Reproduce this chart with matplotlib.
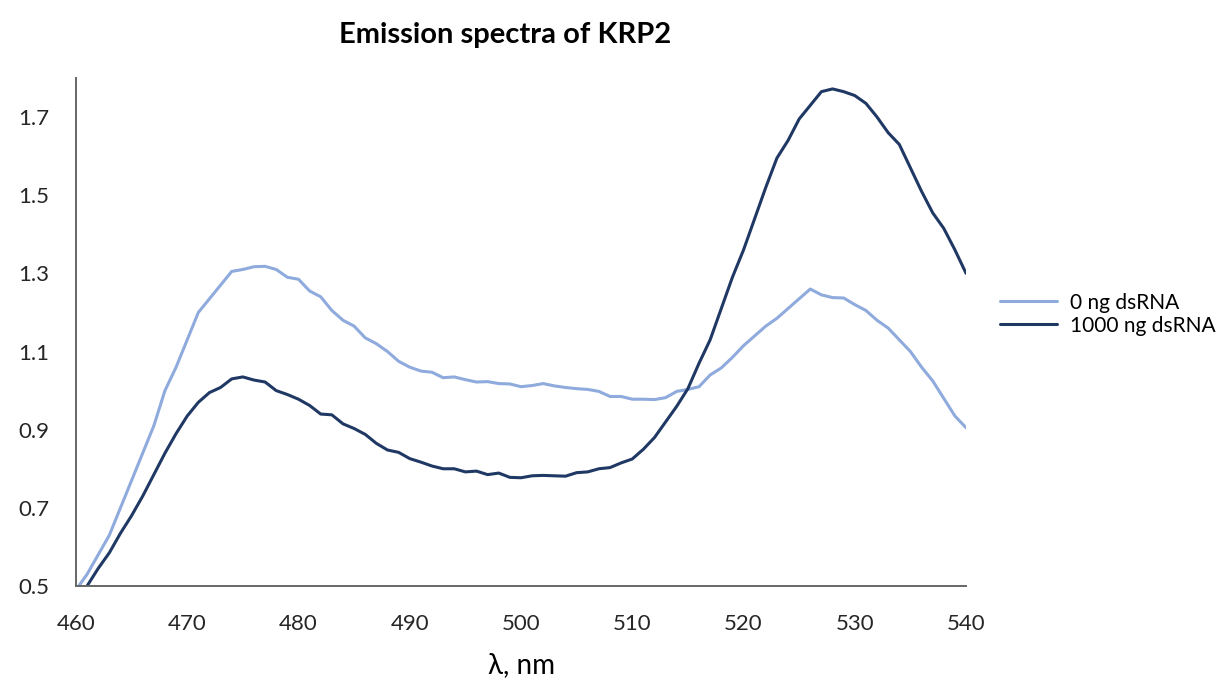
import numpy as np
from matplotlib import pyplot as plt

# longitud de onda (nm)
wl = np.arange(460, 541)

ng0 = [0.49, 0.53, 0.58, 0.63, 0.70, 0.77, 0.84, 0.91, 1.00, 1.06,
       1.13, 1.20, 1.235, 1.27, 1.305, 1.31, 1.317, 1.318, 1.31, 1.29,
       1.285, 1.255, 1.24, 1.205, 1.18, 1.165, 1.135, 1.12, 1.10, 1.075,
       1.06, 1.05, 1.047, 1.033, 1.035, 1.028, 1.022, 1.023, 1.018, 1.017,
       1.01, 1.013, 1.018, 1.012, 1.008, 1.005, 1.003, 0.998, 0.985, 0.985,
       0.978, 0.978, 0.977, 0.982, 0.998, 1.003, 1.01, 1.04, 1.058, 1.085,
       1.115, 1.14, 1.165, 1.185, 1.21, 1.235, 1.26, 1.245, 1.238, 1.237,
       1.22, 1.205, 1.18, 1.16, 1.13, 1.10, 1.06, 1.025, 0.98, 0.935,
       0.905]

ng1000 = [0.47, 0.50, 0.545, 0.585, 0.635, 0.68, 0.73, 0.785, 0.84, 0.89,
          0.935, 0.97, 0.995, 1.008, 1.03, 1.035, 1.027, 1.022, 1.00, 0.99,
          0.978, 0.962, 0.94, 0.938, 0.915, 0.903, 0.888, 0.865, 0.848, 0.842,
          0.826, 0.817, 0.807, 0.80, 0.80, 0.792, 0.794, 0.785, 0.789, 0.778,
          0.777, 0.782, 0.783, 0.782, 0.781, 0.79, 0.792, 0.80, 0.803, 0.815,
          0.825, 0.85, 0.88, 0.92, 0.96, 1.005, 1.07, 1.13, 1.21, 1.29,
          1.36, 1.44, 1.52, 1.595, 1.64, 1.695, 1.73, 1.765, 1.772, 1.765,
          1.755, 1.735, 1.70, 1.66, 1.63, 1.57, 1.51, 1.455, 1.415, 1.36,
          1.30]

labels = ['0 ng dsRNA', '1000 ng dsRNA']
colores = ['#8FAADC', '#203864']

plt.rcParams['font.family'] = ['Lato', 'DejaVu Sans']

fig = plt.figure(figsize=(12.21, 6.81), dpi=100)
ax = fig.add_axes([0.0622, 0.1395, 0.7290, 0.7460])

ax.plot(wl, ng0, color=colores[0], lw=2.2, label=labels[0],
        solid_joinstyle='round', solid_capstyle='round')
ax.plot(wl, ng1000, color=colores[1], lw=2.2, label=labels[1],
        solid_joinstyle='round', solid_capstyle='round')

ax.set_xlim(460, 540)
ax.set_ylim(0.5, 1.8)
ax.set_xticks(np.arange(460, 541, 10))
ax.set_yticks([0.5, 0.7, 0.9, 1.1, 1.3, 1.5, 1.7])
ax.set_yticklabels(['0.5', '0.7', '0.9', '1.1', '1.3', '1.5', '1.7'])
ax.tick_params(length=0, labelsize=16, colors='#262626')
ax.tick_params(axis='y', pad=19)
ax.tick_params(axis='x', pad=20)

for s in ['top', 'right']:
    ax.spines[s].set_visible(False)
for s in ['left', 'bottom']:
    ax.spines[s].set_color('#666666')
    ax.spines[s].set_linewidth(1.4)

ax.set_xlabel('λ, nm', fontsize=20, labelpad=13)
fig.text(0.414, 0.948, 'Emission spectra of KRP2', fontsize=21,
         fontweight='bold', ha='center', va='center')

ax.legend(loc='center left', bbox_to_anchor=(1.017, 0.535), frameon=False,
          fontsize=15, handlelength=2.75, handletextpad=0.6,
          labelspacing=0.15)

fig.savefig('out.png', dpi=100)
